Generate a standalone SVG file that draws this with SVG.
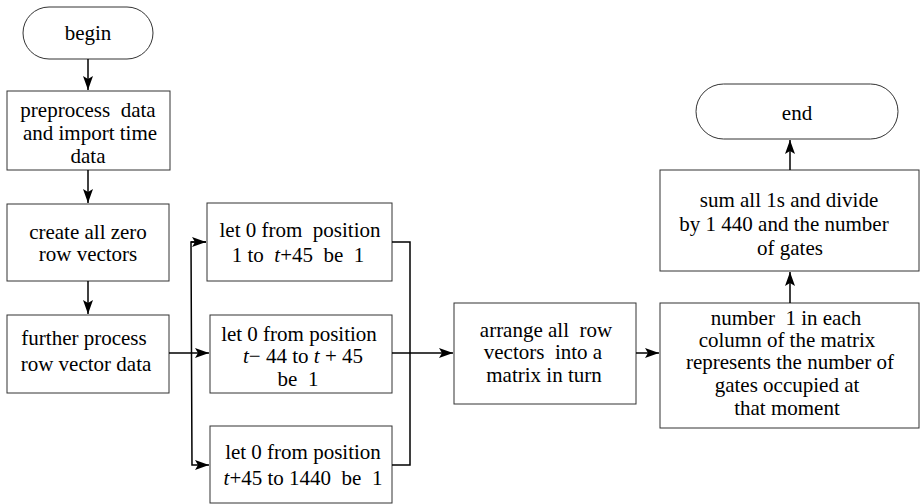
<svg xmlns="http://www.w3.org/2000/svg" width="920" height="504" viewBox="0 0 920 504">
<defs>
<marker id="ah" markerWidth="14" markerHeight="10" refX="14" refY="5" orient="auto" markerUnits="userSpaceOnUse">
<path d="M0,0 L14,5 L0,10 L3,5 Z" fill="#000"/>
</marker>
</defs>
<style>
.box{fill:#fff;stroke:#333;stroke-width:1}
.t{font-family:"Liberation Serif","Times New Roman",serif;font-size:21px;fill:#000;text-anchor:middle}
.c{fill:none;stroke:#000;stroke-width:1.5}
</style>
<rect width="920" height="504" fill="#fff"/>
<g id="begin"><rect class="box" x="23" y="7" width="130" height="52" rx="26"/><text class="t" x="88" y="40">begin</text></g>
<g id="preprocess"><rect class="box" x="7" y="91" width="163" height="79"/><text class="t" x="88" y="117" xml:space="preserve">preprocess  data</text><text class="t" x="90" y="140">and import time</text><text class="t" x="88" y="163">data</text></g>
<g id="create"><rect class="box" x="7" y="204" width="162" height="77"/><text class="t" x="88" y="239">create all zero</text><text class="t" x="88" y="261">row vectors</text></g>
<g id="further"><rect class="box" x="7" y="315" width="162" height="78"/><text class="t" x="84" y="345">further process</text><text class="t" x="86" y="371">row vector data</text></g>
<g id="pos1"><rect class="box" x="207" y="203" width="185" height="78"/><text class="t" x="300" y="237" xml:space="preserve">let 0 from  position</text><text class="t" x="298" y="262" xml:space="preserve">1 to  <tspan font-style="italic">t</tspan>+45  be  1</text></g>
<g id="pos2"><rect class="box" x="210" y="315" width="182" height="78"/><text class="t" x="299" y="341">let 0 from position</text><text class="t" x="303" y="363" xml:space="preserve"><tspan font-style="italic">t</tspan>− 44 to <tspan font-style="italic">t</tspan> + 45</text><text class="t" x="298" y="386" xml:space="preserve">be  1</text></g>
<g id="pos3"><rect class="box" x="210" y="426" width="182" height="77"/><text class="t" x="303" y="459">let 0 from position</text><text class="t" x="303" y="485" xml:space="preserve"><tspan font-style="italic">t</tspan>+45 to 1440  be  1</text></g>
<g id="arrange"><rect class="box" x="454" y="303" width="182" height="101"/><text class="t" x="546" y="337" xml:space="preserve">arrange all  row</text><text class="t" x="543" y="359" xml:space="preserve">vectors  into a</text><text class="t" x="544" y="382">matrix in turn</text></g>
<g id="number"><rect class="box" x="660" y="303" width="259" height="125"/><text class="t" x="786" y="325" xml:space="preserve">number  1 in each</text><text class="t" x="787" y="347">column of the matrix</text><text class="t" x="790" y="369">represents the number of</text><text class="t" x="787" y="392">gates occupied at</text><text class="t" x="787" y="415">that moment</text></g>
<g id="sum"><rect class="box" x="660" y="170" width="259" height="101"/><text class="t" x="789" y="207">sum all 1s and divide</text><text class="t" x="784" y="231">by 1 440 and the number</text><text class="t" x="790" y="255">of gates</text></g>
<g id="end"><rect class="box" x="696" y="84" width="202" height="55" rx="27.5"/><text class="t" x="797" y="120">end</text></g>
<g id="connectors">
<line class="c" x1="88" y1="59" x2="88" y2="90" marker-end="url(#ah)"/>
<line class="c" x1="88" y1="170" x2="88" y2="203" marker-end="url(#ah)"/>
<line class="c" x1="88" y1="281" x2="88" y2="314" marker-end="url(#ah)"/>
<line class="c" x1="169" y1="353" x2="209" y2="353" marker-end="url(#ah)"/>
<polyline class="c" points="206,242 191,242 192,465 209,465" marker-end="url(#ah)"/>
<line class="c" x1="191" y1="242" x2="206" y2="242" marker-end="url(#ah)"/>
<polyline class="c" points="392,242 410,242 410,465 392,465"/>
<line class="c" x1="392" y1="353" x2="453" y2="353" marker-end="url(#ah)"/>
<line class="c" x1="636" y1="353" x2="659" y2="353" marker-end="url(#ah)"/>
<line class="c" x1="790" y1="303" x2="790" y2="272" marker-end="url(#ah)"/>
<line class="c" x1="790" y1="170" x2="790" y2="140" marker-end="url(#ah)"/>
</g>
</svg>
